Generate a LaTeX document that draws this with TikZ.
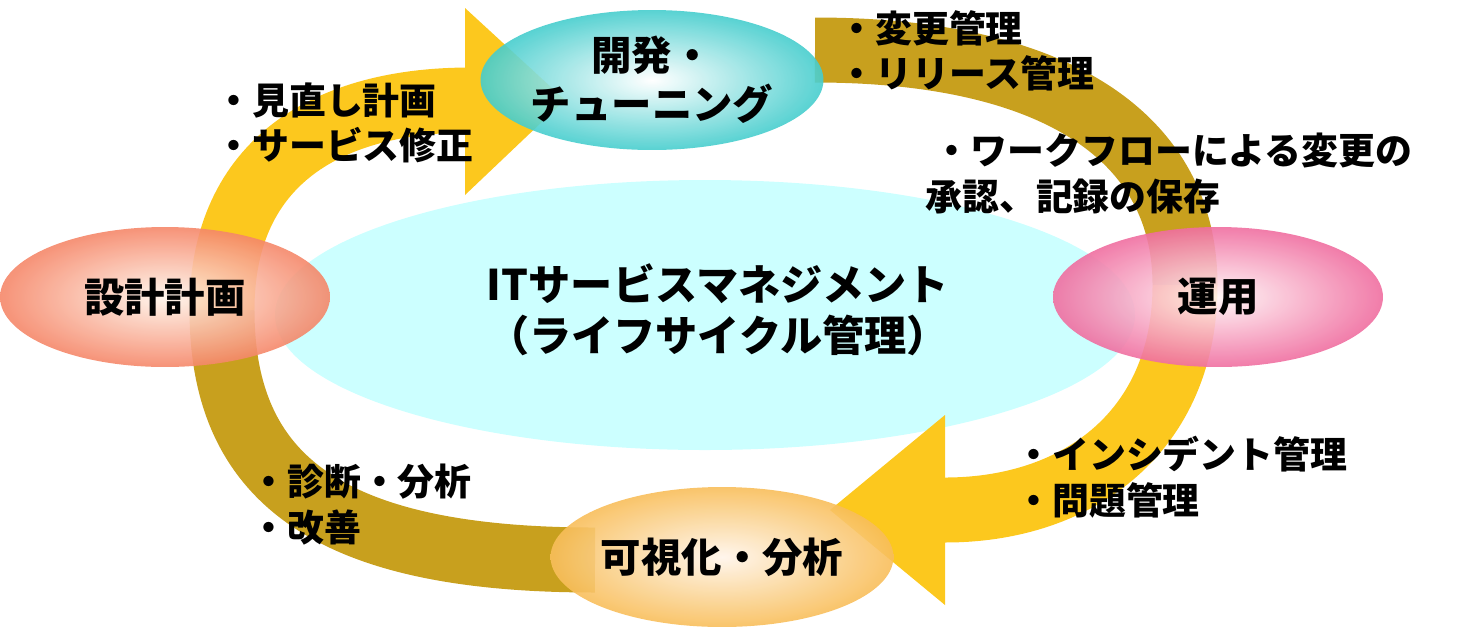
\documentclass[tikz,border=0pt]{standalone}
\usepackage{fontspec}
\setmainfont{Noto Sans CJK JP}
\usetikzlibrary{shapes,positioning}

\definecolor{bandgold}{RGB}{200,160,30}
\definecolor{bandyellow}{RGB}{252,200,30}
\definecolor{centercyan}{RGB}{204,255,255}
\definecolor{opspink}{RGB}{240,110,160}
\definecolor{plansalmon}{RGB}{245,135,105}
\definecolor{devteal}{RGB}{70,205,205}
\definecolor{visorange}{RGB}{248,190,90}

\tikzset{
  stage/.style={ellipse,inner sep=0pt,minimum width=6.6cm,minimum height=2.8cm,align=center,font=\bfseries\fontsize{23}{28}\selectfont,fill opacity=0.9,text opacity=1},
  note/.style={anchor=north west,align=left,font=\bfseries\fontsize{21}{26}\selectfont,inner sep=0pt},
  band/.style={line width=1.3cm}
}

\begin{document}
\begin{tikzpicture}[x=0.02cm,y=-0.02cm]
      \useasboundingbox (0,0) rectangle (1458,630);

      % central ellipse with the title
      \fill[centercyan] (705,315) ellipse (430 and 135);
      \node[align=center,font=\bfseries\fontsize{24}{29}\selectfont] (title) at (718,310) {ITサービスマネジメント\\（ライフサイクル管理）};

      % points the bands pass through
      \coordinate (pl) at (222,310);
      \coordinate (pt) at (470,100);
      \coordinate (ps) at (815,50);
      \coordinate (pr) at (1185,285);
      \coordinate (pb) at (945,510);
      \coordinate (pe) at (595,560);

      % the four bands, two of them with heads
      \draw[band,bandgold] (ps) .. controls (1060,50) and (1185,140) .. (pr);
      \draw[band,bandgold] (pe) .. controls (330,560) and (222,480) .. (pl);
      \draw[band,bandyellow] (pl) .. controls (222,160) and (330,100) .. (pt);
      \fill[bandyellow] (465,8) -- (565,100) -- (465,195) -- cycle;
      \draw[band,bandyellow] (pr) .. controls (1185,430) and (1080,510) .. (pb);
      \fill[bandyellow] (945,415) -- (830,510) -- (945,605) -- cycle;

      % the four stages
      \node[stage,inner color=white,outer color=devteal] (dev) at (652,80) {開発・\\チューニング};
      \node[stage,inner color=pink!15,outer color=opspink] (ops) at (1218,297) {運用};
      \node[stage,inner color=orange!8,outer color=visorange] (vis) at (722,557) {可視化・分析};
      \node[stage,inner color=orange!8,outer color=plansalmon] (plan) at (165,297) {設計計画};

      % notes beside the bands
      \node[note] (n1) at (215,82) {・見直し計画\\・サービス修正};
      \node[note] (n2) at (838,10) {・変更管理\\・リリース管理};
      \node[note] (n3) at (925,133) {\ ・ワークフローによる変更の\\承認、記録の保存};
      \node[note] (n4) at (1015,436) {・インシデント管理\\・問題管理};
      \node[note] (n5) at (250,464) {・診断・分析\\・改善};
    \end{tikzpicture}
\end{document}
